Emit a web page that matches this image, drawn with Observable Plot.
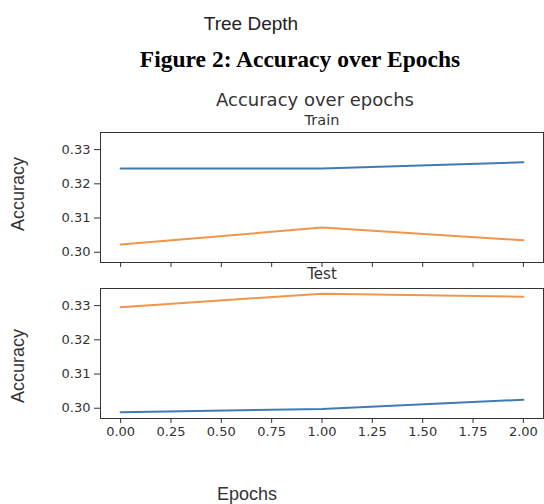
<!DOCTYPE html>
<html>
<head>
<meta charset="utf-8">
<script src="https://cdn.jsdelivr.net/npm/d3@7"></script>
<script src="https://cdn.jsdelivr.net/npm/@observablehq/plot@0.6"></script>
<style>
  html, body { margin: 0; padding: 0; background: #fff; }
  #root { position: relative; width: 544px; height: 504px; overflow: hidden; background: #fff; }
  .t { position: absolute; white-space: nowrap; transform: translate(-50%, -50%); line-height: 1; }
  .abs { position: absolute; left: 0; }
</style>
</head>
<body>
<div id="root">
  <div class="t" style="left:251px;top:23px;font-family:'Liberation Sans',Arial,sans-serif;font-size:19px;color:#222;">Tree Depth</div>
  <div class="t" style="left:300px;top:60px;font-family:'Liberation Serif','Times New Roman',serif;font-size:23.5px;font-weight:bold;color:#000;">Figure 2: Accuracy over Epochs</div>
  <div class="t" style="left:315px;top:100px;font-family:'DejaVu Sans',sans-serif;font-size:18px;color:#333;">Accuracy over epochs</div>
  <div class="t" style="left:322px;top:120px;font-family:'DejaVu Sans',sans-serif;font-size:14.5px;color:#333;">Train</div>
  <div class="t" style="left:322px;top:274px;font-family:'DejaVu Sans',sans-serif;font-size:15px;color:#333;">Test</div>
  <div class="t" style="left:18px;top:194px;font-family:'Liberation Sans',Arial,sans-serif;font-size:18px;color:#333;transform:translate(-50%,-50%) rotate(-90deg);">Accuracy</div>
  <div class="t" style="left:18px;top:366px;font-family:'Liberation Sans',Arial,sans-serif;font-size:18px;color:#333;transform:translate(-50%,-50%) rotate(-90deg);">Accuracy</div>
  <div class="t" style="left:247px;top:494px;font-family:'Liberation Sans',Arial,sans-serif;font-size:18px;color:#333;">Epochs</div>
  <div id="top" class="abs" style="top:125px;"></div>
  <div id="bottom" class="abs" style="top:281px;"></div>
</div>
<script>
const epochs = [0, 1, 2];
const trainBlue = [0.3245, 0.3245, 0.3263];
const trainOrange = [0.30225, 0.3072, 0.3035];
const testBlue = [0.2988, 0.2998, 0.3025];
const testOrange = [0.3295, 0.3335, 0.3326];
const xTicks = [0, 0.25, 0.5, 0.75, 1, 1.25, 1.5, 1.75, 2];
const yTicks = [0.30, 0.31, 0.32, 0.33];
const seriesNames = ["Series 1", "Series 2"];
const colors = ["#3f7ab3", "#f0954a"];

function rows(a, b) {
  return [
    ...epochs.map((e, i) => ({epoch: e, acc: a[i], s: seriesNames[0]})),
    ...epochs.map((e, i) => ({epoch: e, acc: b[i], s: seriesNames[1]}))
  ];
}

function panel(data, showLabels, height, marginBottom) {
  return Plot.plot({
    width: 544,
    height,
    marginLeft: 100,
    marginRight: 1,
    marginTop: 7,
    marginBottom,
    style: {fontFamily: "'DejaVu Sans', sans-serif", fontSize: "13px", color: "#333", background: "transparent"},
    x: {domain: [-0.1, 2.1], axis: null},
    y: {domain: [0.2970, 0.3350], axis: null},
    color: {domain: seriesNames, range: colors},
    marks: [
      Plot.axisY({ticks: yTicks, tickFormat: d3.format(".2f"), tickSize: 6, tickPadding: 4, label: null, stroke: "#333", fill: "#333"}),
      Plot.axisX({ticks: xTicks, tickFormat: showLabels ? d3.format(".2f") : () => "", tickSize: 5, tickPadding: 3, label: null, stroke: "#333", fill: "#333"}),
      Plot.line(data, {x: "epoch", y: "acc", stroke: "s", z: "s", strokeWidth: 2}),
      Plot.frame({stroke: "#333", strokeWidth: 1})
    ]
  });
}

document.getElementById("top").appendChild(panel(rows(trainBlue, trainOrange), false, 145, 8));
document.getElementById("bottom").appendChild(panel(rows(testBlue, testOrange), true, 167, 30));
</script>
</body>
</html>
